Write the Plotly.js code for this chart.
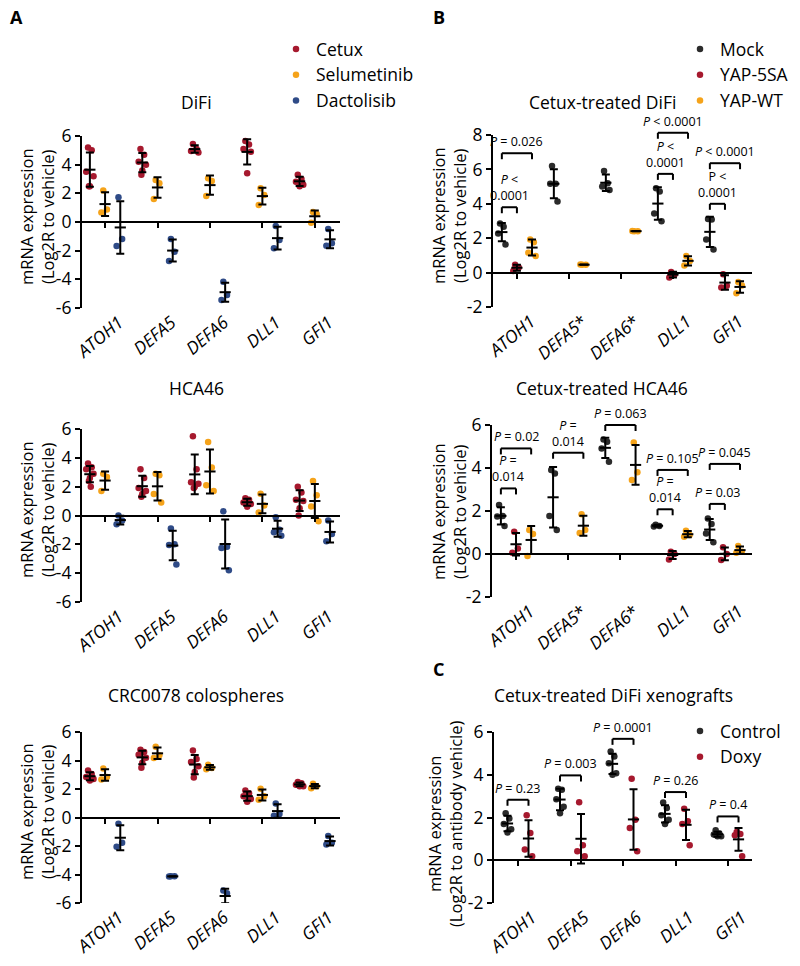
<!DOCTYPE html>
<html>
<head>
<meta charset="utf-8">
<script src="https://cdn.plot.ly/plotly-3.0.1.min.js"></script>
<style>
  html, body { margin: 0; padding: 0; background: #fff; }
  #chart { width: 800px; height: 966px; }
</style>
</head>
<body>
<div id="chart"></div>
<script>
// --- Categories and tick labels ---
const genesA = ['ATOH1', 'DEFA5', 'DEFA6', 'DLL1', 'GFI1'];
const genesB = ['ATOH1', 'DEFA5*', 'DEFA6*', 'DLL1', 'GFI1'];
const yTicksWide = [-6, -4, -2, 0, 2, 4, 6];
const yTicksDifiYap = [-2, 0, 2, 4, 6, 8];
const yTicksNarrow = [-2, 0, 2, 4, 6];

// --- A: DiFi (one list of replicate values per gene) ---
const difiCetux = [[5.2, 5.0, 3.5, 3.2, 2.5, 2.5], [5.1, 4.7, 4.2, 4.0, 3.6, 3.3], [5.45, 5.1, 4.95, 4.85], [5.65, 5.4, 5.1, 4.9, 3.4], [3.3, 3.0, 2.8, 2.6, 2.5]];
const difiSelumetinib = [[2.2, 0.88, 0.67], [2.93, 2.7, 1.6], [3.05, 2.86, 1.81], [2.35, 1.88, 1.19], [0.7, 0.55, -0.05]];
const difiDactolisib = [[1.72, -1.19, -1.67], [-1.19, -2.07, -2.72], [-4.16, -5.09, -5.44], [-0.28, -1.26, -1.84], [-0.49, -1.49, -1.65]];

// --- A: HCA46 ---
const hcaCetux = [[3.6, 3.35, 3.2, 2.9, 2.6, 2.4, 2.0], [3.2, 2.6, 1.9, 1.7, 1.5, 1.3], [5.5, 3.2, 2.3, 2.2, 2.0, 1.9], [1.2, 1.1, 0.9, 0.8, 0.6], [2.0, 1.6, 1.1, 1.0, 0.5, 0.0]];
const hcaSelumetinib = [[2.9, 2.67, 1.7], [2.9, 2.8, 1.5, 0.9], [5.09, 3.33, 2.09, 1.7], [1.51, 0.7, 0.21], [2.4, 1.4, 0.63, -0.4]];
const hcaDactolisib = [[0.0, -0.35, -0.6], [-0.9, -2.0, -2.05, -3.4], [0.3, -2.16, -2.26, -3.79], [-0.12, -0.98, -1.16, -1.4], [-0.35, -1.28, -1.79]];

// --- A: CRC0078 colospheres ---
const crcCetux = [[3.3, 3.05, 2.85, 2.7, 2.6], [4.75, 4.6, 4.4, 4.2, 3.85, 3.5], [4.7, 4.1, 3.9, 3.6, 3.2, 2.8], [1.9, 1.7, 1.5, 1.3, 1.1], [2.5, 2.4, 2.3, 2.2, 2.2]];
const crcSelumetinib = [[3.43, 2.84, 2.67], [4.96, 4.37, 4.18], [3.71, 3.48, 3.38], [2.01, 1.49, 1.25], [2.36, 2.2, 2.06]];
const crcDactolisib = [[-0.43, -1.77, -2.06], [-4.12, -4.13, -4.14], [-5.13, -5.32, -6.08], [0.99, 0.24, 0.12], [-1.3, -1.77, -1.89]];

// --- B: Cetux-treated DiFi ---
const difiMock = [[2.85, 2.66, 2.27, 1.64], [6.2, 5.16, 5.16, 4.14], [5.9, 5.2, 5.0, 4.8], [4.91, 4.72, 3.43, 2.99], [3.12, 3.08, 1.93, 1.35]];
const difiYap5sa = [[0.46, 0.29, 0.1], [], [], [0.04, -0.1, -0.29], [-0.1, -0.77, -0.87]];
const difiYapWt = [[1.93, 1.77, 1.16, 0.96], [0.45, 0.46, 0.47], [2.4, 2.41, 2.42], [0.96, 0.67, 0.42], [-0.55, -0.75, -1.2]];

// --- B: Cetux-treated HCA46 ---
const hcaMock = [[2.28, 1.77, 1.74, 1.3], [3.91, 3.75, 1.77, 1.12], [5.33, 5.22, 4.91, 4.29], [1.36, 1.3, 1.28], [1.65, 1.4, 0.95, 0.55]];
const hcaYap5sa = [[1.04, 0.26, 0.06], [], [], [0.11, 0.0, -0.25], [0.31, 0.0, -0.28]];
const hcaYapWt = [[1.12, 0.93, -0.09], [1.85, 1.12, 0.98], [5.19, 3.8, 3.44], [1.08, 0.88, 0.8], [0.37, 0.11, 0.06]];

// --- C: Cetux-treated DiFi xenografts ---
const xenoControl = [[2.2, 1.95, 1.7, 1.45, 1.3], [3.35, 3.3, 2.85, 2.5, 2.2], [5.09, 4.85, 4.54, 4.07, 4.0], [2.7, 2.45, 2.1, 1.9, 1.7], [1.4, 1.25, 1.2, 1.12, 1.12]];
const xenoDoxy = [[2.1, 1.28, 0.5, 0.19], [2.71, 0.7, 0.42, 0.19], [3.81, 1.9, 1.51, 0.42], [2.41, 1.82, 1.7, 0.7], [1.32, 1.23, 1.17, 0.19]];

// --- P-value brackets: [gene index, from series, to series, bracket level, label] ---
const difiYapPvals = [
  [0, 0, 1, 3.8, '<i>P</i> <<br>0.0001'],
  [0, 0, 2, 6.94, '<i>P</i> = 0.026'],
  [3, 0, 1, 5.74, '<i>P</i> <<br>0.0001'],
  [3, 0, 2, 8.13, '<i>P</i> < 0.0001'],
  [4, 0, 1, 4.0, 'P <<br>0.0001'],
  [4, 0, 2, 6.36, '<i>P</i> < 0.0001']
];
const hcaYapPvals = [
  [0, 0, 1, 3.05, '<i>P</i> =<br>0.014'],
  [0, 0, 2, 4.91, '<i>P</i> = 0.02'],
  [1, 0, 2, 4.71, '<i>P</i> =<br>0.014'],
  [2, 0, 2, 6.0, '<i>P</i> = 0.063'],
  [3, 0, 1, 2.08, '<i>P</i> =<br>0.014'],
  [3, 0, 2, 3.91, '<i>P</i> = 0.105'],
  [4, 0, 1, 2.33, '<i>P</i> = 0.03'],
  [4, 0, 2, 4.19, '<i>P</i> = 0.045']
];
const xenoPvals = [
  [0, 0, 1, 2.83, '<i>P</i> = 0.23'],
  [1, 0, 1, 3.97, '<i>P</i> = 0.003'],
  [2, 0, 1, 5.68, '<i>P</i> = 0.0001'],
  [3, 0, 1, 3.19, '<i>P</i> = 0.26'],
  [4, 0, 1, 2.05, '<i>P</i> = 0.4']
];

// Colours
const red = '#a6192e';
const orange = '#f5a31a';
const blue = '#2f4b87';
const dark = '#2b2b2b';

const W = 800, H = 966;
const FONT = '"Open Sans", "DejaVu Sans", sans-serif';
const jitterPattern = [-0.5, 0.5, -1, 1, 0, -0.25, 0.25];

// Panel geometry is given in page pixels and converted to paper fractions
const panels = [
  { xPx: [82, 340], yPx: [136, 308], xRange: [-0.44, 4.48], yRange: [-6, 6], yTicks: yTicksWide,
    genes: genesA, offsets: [-0.29, 0, 0.29], title: 'DiFi', titlePx: [196, 102],
    yTitle: 'mRNA expression<br>(Log2R to vehicle)', yTitlePx: [37, 217], legend: 'legend', pvals: [],
    series: [['Cetux', red, difiCetux], ['Selumetinib', orange, difiSelumetinib], ['Dactolisib', blue, difiDactolisib]] },
  { xPx: [82, 340], yPx: [429, 602], xRange: [-0.44, 4.48], yRange: [-6, 6], yTicks: yTicksWide,
    genes: genesA, offsets: [-0.29, 0, 0.29], title: 'HCA46', titlePx: [196, 388],
    yTitle: 'mRNA expression<br>(Log2R to vehicle)', yTitlePx: [37, 510], legend: null, pvals: [],
    series: [['Cetux', red, hcaCetux], ['Selumetinib', orange, hcaSelumetinib], ['Dactolisib', blue, hcaDactolisib]] },
  { xPx: [82, 340], yPx: [732, 903], xRange: [-0.44, 4.48], yRange: [-6, 6], yTicks: yTicksWide,
    genes: genesA, offsets: [-0.29, 0, 0.29], title: 'CRC0078 colospheres', titlePx: [196, 695],
    yTitle: 'mRNA expression<br>(Log2R to vehicle)', yTitlePx: [37, 812], legend: null, pvals: [],
    series: [['Cetux', red, crcCetux], ['Selumetinib', orange, crcSelumetinib], ['Dactolisib', blue, crcDactolisib]] },
  { xPx: [493, 752], yPx: [135, 307], xRange: [-0.46, 4.52], yRange: [-2, 8], yTicks: yTicksDifiYap,
    genes: genesB, offsets: [-0.29, 0, 0.29], title: 'Cetux-treated DiFi', titlePx: [602, 102],
    yTitle: 'mRNA expression<br>(Log2R to vehicle)', yTitlePx: [449, 216], legend: 'legend2', pvals: difiYapPvals,
    series: [['Mock', dark, difiMock], ['YAP-5SA', red, difiYap5sa], ['YAP-WT', orange, difiYapWt]] },
  { xPx: [492, 752], yPx: [425, 597], xRange: [-0.46, 4.52], yRange: [-2, 6], yTicks: yTicksNarrow,
    genes: genesB, offsets: [-0.29, 0, 0.29], title: 'Cetux-treated HCA46', titlePx: [602, 388],
    yTitle: 'mRNA expression<br>(Log2R to vehicle)', yTitlePx: [449, 512], legend: null, pvals: hcaYapPvals,
    series: [['Mock', dark, hcaMock], ['YAP-5SA', red, hcaYap5sa], ['YAP-WT', orange, hcaYapWt]] },
  { xPx: [494, 752], yPx: [732, 903], xRange: [-0.457, 4.457], yRange: [-2, 6], yTicks: yTicksNarrow,
    genes: genesA, offsets: [-0.2, 0.2], title: 'Cetux-treated DiFi xenografts', titlePx: [613, 695],
    yTitle: 'mRNA expression<br>(Log2R to antibody vehicle)', yTitlePx: [445, 824], legend: 'legend3', pvals: xenoPvals,
    series: [['Control', dark, xenoControl], ['Doxy', red, xenoDoxy]] }
];

function mean(v) {
  return v.reduce((a, b) => a + b, 0) / v.length;
}

function sd(v) {
  if (v.length < 2) return 0;
  const m = mean(v);
  return Math.sqrt(v.reduce((a, b) => a + (b - m) * (b - m), 0) / (v.length - 1));
}

function italicGene(g) {
  return g.replace(/^([A-Z0-9]+)/, '<i>$1</i>');
}

const traces = [];
const barTraces = [];
const layout = {
  width: W,
  height: H,
  margin: { l: 0, r: 0, t: 0, b: 0 },
  paper_bgcolor: '#fff',
  plot_bgcolor: 'rgba(0,0,0,0)',
  font: { family: FONT, size: 16, color: '#000' },
  showlegend: true,
  annotations: [],
  shapes: []
};

panels.forEach((p, k) => {
  const n = k + 1;
  const xId = n === 1 ? 'x' : 'x' + n;
  const yId = n === 1 ? 'y' : 'y' + n;
  const ovId = 'x' + (n + 6);
  const xDom = [p.xPx[0] / W, p.xPx[1] / W];
  const yDom = [1 - p.yPx[1] / H, 1 - p.yPx[0] / H];
  const ySpan = p.yRange[1] - p.yRange[0];
  const zeroPos = yDom[0] + (0 - p.yRange[0]) / ySpan * (yDom[1] - yDom[0]);
  const cats = p.genes.map((g, i) => i);

  // Category axis carrying the gene labels at the bottom
  layout['xaxis' + (n === 1 ? '' : n)] = {
    domain: xDom, range: p.xRange, anchor: yId,
    showline: false, ticks: '', zeroline: false, showgrid: false,
    tickvals: cats, ticktext: p.genes.map(italicGene),
    tickangle: -40, tickfont: { size: 17.5 }, ticklabelshift: 14
  };
  // Overlay axis drawn at y = 0, with tick marks hanging below it
  layout['xaxis' + (n + 6)] = {
    overlaying: xId, anchor: 'free', position: zeroPos, range: p.xRange,
    showline: true, linewidth: 2, linecolor: '#000',
    ticks: 'outside', ticklen: 5, tickwidth: 2, tickcolor: '#000',
    tickvals: cats, showticklabels: false, showgrid: false, zeroline: false
  };
  layout['yaxis' + (n === 1 ? '' : n)] = {
    domain: yDom, range: p.yRange, anchor: xId,
    showline: true, linewidth: 2, linecolor: '#000',
    ticks: 'outside', ticklen: 5, tickwidth: 2, tickcolor: '#000',
    tickvals: p.yTicks, ticktext: p.yTicks.map(String),
    showgrid: false, zeroline: false, tickfont: { size: 17.5 }
  };
  // Two-line y title, placed as a rotated annotation
  layout.annotations.push({
    xref: 'paper', yref: 'paper', x: p.yTitlePx[0] / W, y: 1 - p.yTitlePx[1] / H,
    xanchor: 'center', yanchor: 'middle', showarrow: false, textangle: -90,
    text: p.yTitle, font: { size: 16.5 }
  });

  // Individual replicates (jittered around the group position) and mean +/- SD
  p.series.forEach((s, si) => {
    const [name, color, values] = s;
    const xs = [], ys = [];
    const mx = [], my = [], me = [];
    values.forEach((vals, g) => {
      vals.forEach((v, j) => {
        xs.push(g + p.offsets[si] + jitterPattern[j % jitterPattern.length] * 0.07);
        ys.push(v);
      });
      if (vals.length) {
        mx.push(g + p.offsets[si]);
        my.push(mean(vals));
        me.push(sd(vals));
      }
    });
    const pt = {
      type: 'scatter', mode: 'markers', name: name,
      x: xs, y: ys, xaxis: xId, yaxis: yId, cliponaxis: false,
      marker: { color: color, size: 6.5 },
      showlegend: !!p.legend, hoverinfo: 'skip'
    };
    if (p.legend) pt.legend = p.legend;
    traces.push(pt);
    barTraces.push({
      type: 'scatter', mode: 'markers', x: mx, y: my,
      xaxis: ovId, yaxis: yId, cliponaxis: false, showlegend: false, hoverinfo: 'skip',
      marker: { symbol: 'line-ew', size: 8, color: '#000', line: { width: 2, color: '#000' } },
      error_y: { type: 'data', array: me, visible: true, color: '#000', thickness: 2, width: 4 }
    });
  });

  // Comparison brackets with their P values
  const yFrac = v => (v - p.yRange[0]) / ySpan;
  const leg = 6 / (p.yPx[1] - p.yPx[0]);
  p.pvals.forEach(c => {
    const [g, a, b, level, label] = c;
    const x0 = g + p.offsets[a];
    const x1 = g + p.offsets[b];
    const yb = yFrac(level);
    const ln = { type: 'line', xref: xId, yref: yId + ' domain', line: { color: '#000', width: 2 } };
    layout.shapes.push(Object.assign({}, ln, { x0: x0, x1: x1, y0: yb, y1: yb }));
    layout.shapes.push(Object.assign({}, ln, { x0: x0, x1: x0, y0: yb, y1: yb - leg }));
    layout.shapes.push(Object.assign({}, ln, { x0: x1, x1: x1, y0: yb, y1: yb - leg }));
    layout.annotations.push({
      xref: xId, yref: yId + ' domain', x: (x0 + x1) / 2, y: yb,
      xanchor: 'center', yanchor: 'bottom', yshift: 1, showarrow: false,
      text: label, font: { size: 12.5 }
    });
  });

  // Panel title
  layout.annotations.push({
    xref: 'paper', yref: 'paper', x: p.titlePx[0] / W, y: 1 - p.titlePx[1] / H,
    xanchor: 'center', yanchor: 'middle', showarrow: false,
    text: p.title, font: { size: 17.5 }
  });
});

// Panel letters
[['A', 16, 17], ['B', 439, 17], ['C', 438, 669]].forEach(l => {
  layout.annotations.push({
    xref: 'paper', yref: 'paper', x: l[1] / W, y: 1 - l[2] / H,
    xanchor: 'center', yanchor: 'middle', showarrow: false,
    text: '<b>' + l[0] + '</b>', font: { size: 18 }
  });
});

// Legends
const legendStyle = { xanchor: 'left', yanchor: 'top', font: { size: 17.5 }, bgcolor: 'rgba(0,0,0,0)', itemwidth: 30, tracegroupgap: 0 };
layout.legend = Object.assign({ x: 276 / W, y: 1 - 31 / H }, legendStyle);
layout.legend2 = Object.assign({ x: 680 / W, y: 1 - 31 / H }, legendStyle);
layout.legend3 = Object.assign({ x: 680 / W, y: 1 - 713 / H }, legendStyle);

Plotly.newPlot('chart', traces.concat(barTraces), layout, { displayModeBar: false, staticPlot: true });
</script>
</body>
</html>
